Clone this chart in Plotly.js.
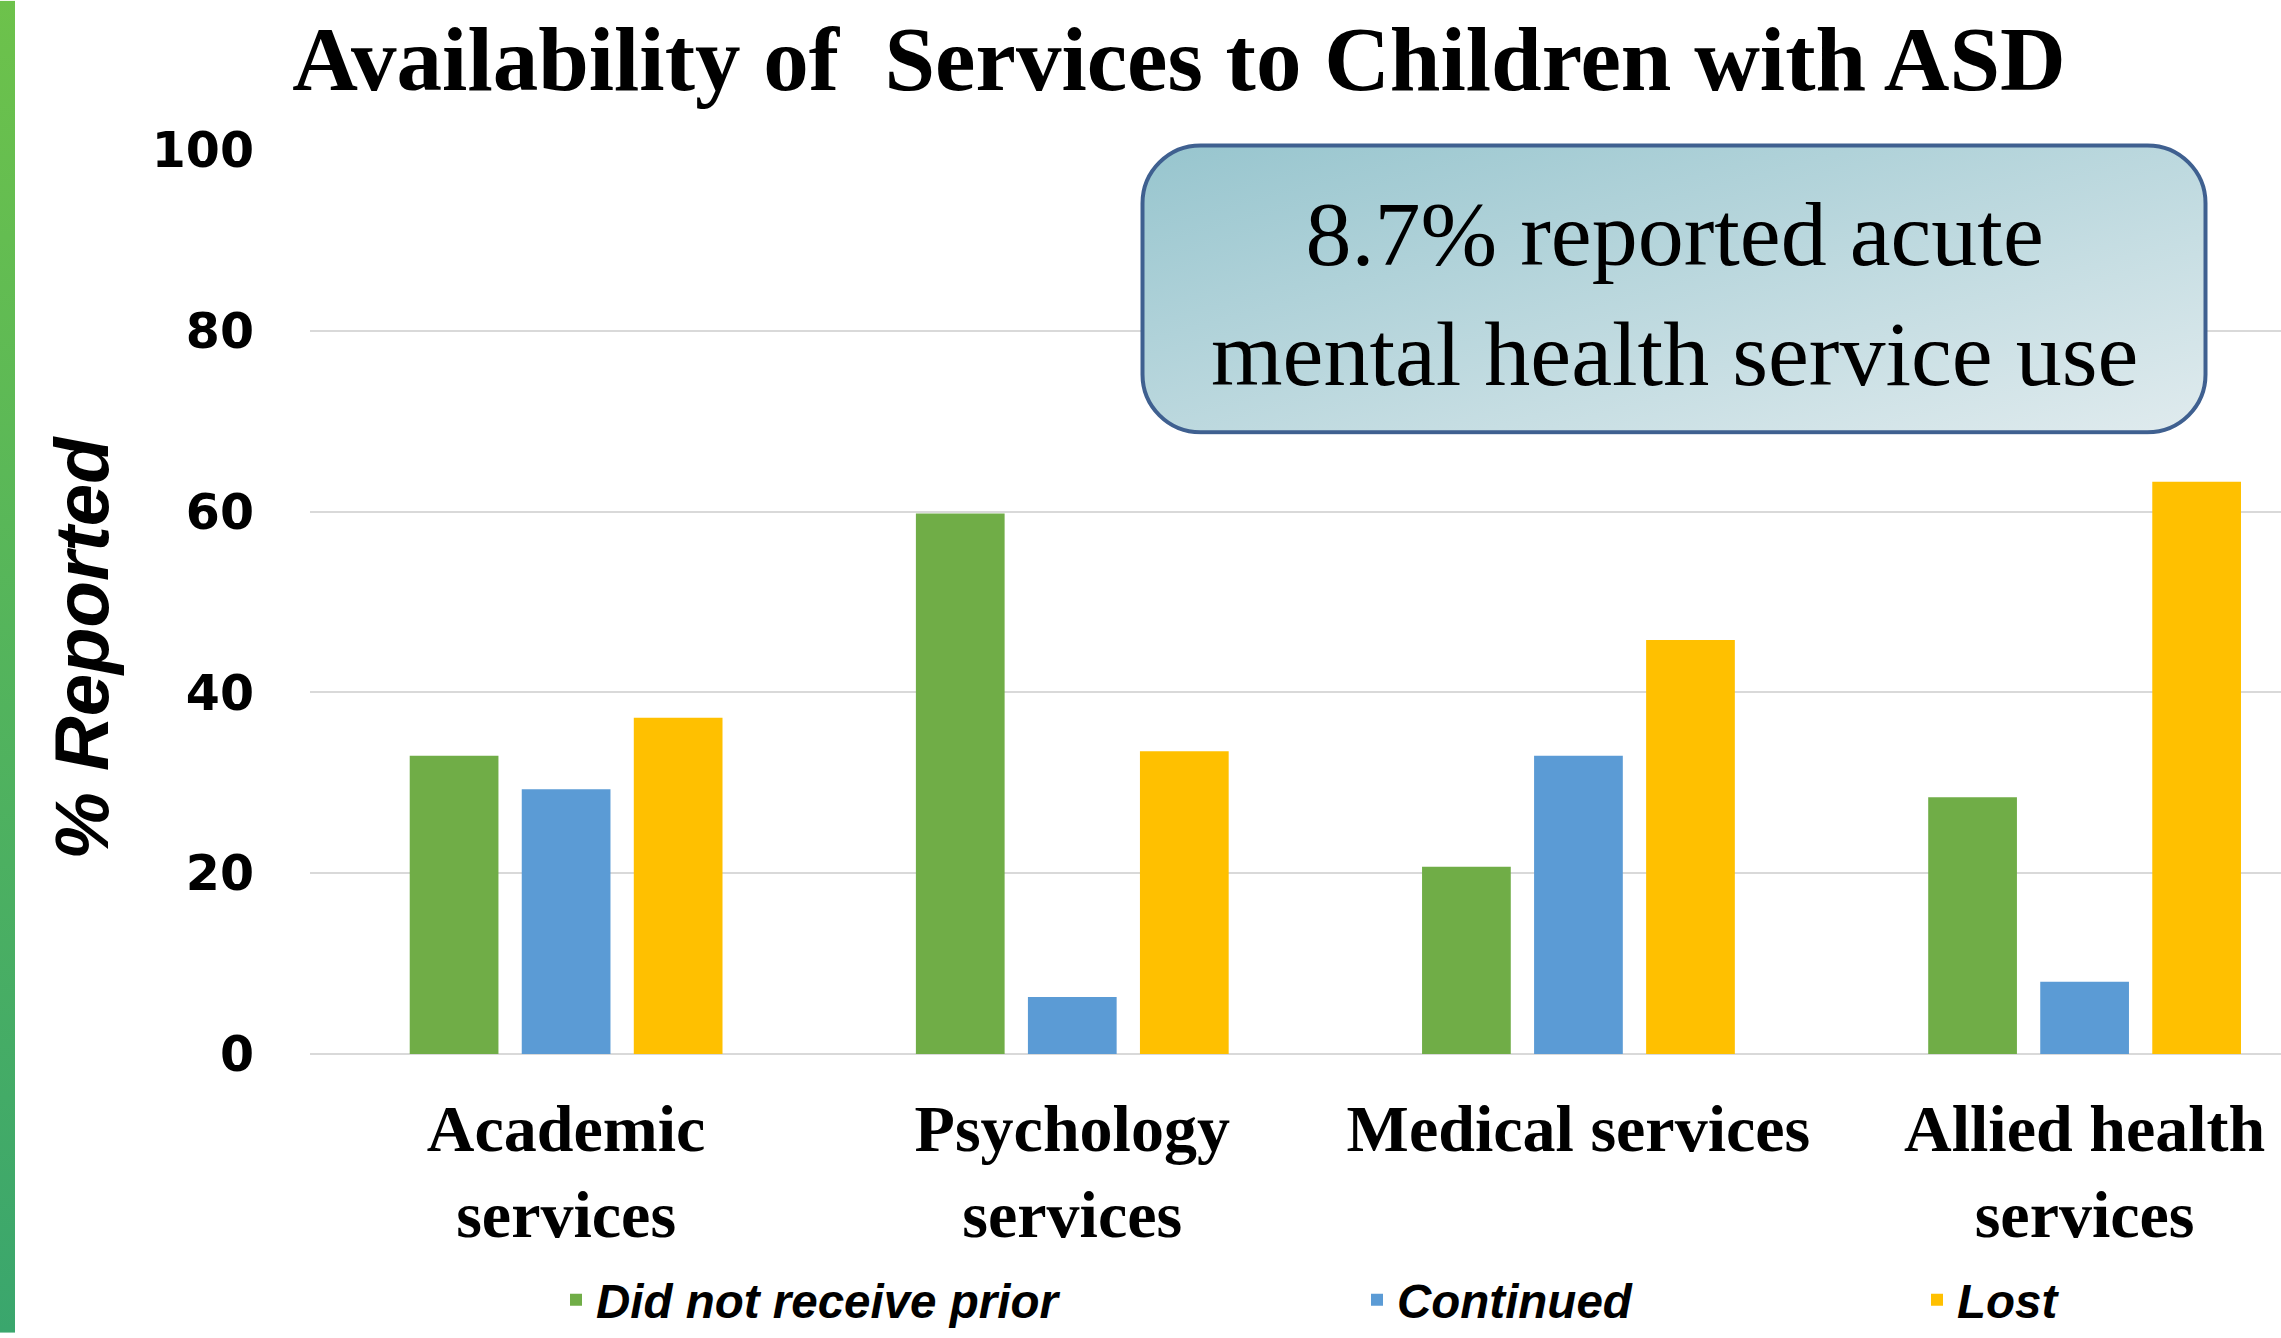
<!DOCTYPE html>
<html>
<head>
<meta charset="utf-8">
<script src="https://cdn.plot.ly/plotly-3.0.1.min.js"></script>
<style>html,body{margin:0;padding:0;background:#fff;}#chart{width:2281px;height:1338px;}</style>
</head>
<body>
<div id="chart"></div>
<script>
// ---- data ----
const categories = ["Academic<br>services", "Psychology<br>services", "Medical services", "Allied health<br>services"];
const seriesNames = ["Did not receive prior", "Continued", "Lost"];
const didNotReceivePrior = [33.0, 59.8, 20.7, 28.4];
const continued = [29.3, 6.3, 33.0, 8.0];
const lost = [37.2, 33.5, 45.8, 63.3];
const yTicks = [0, 20, 40, 60, 80, 100];
const titleText = "Availability of  Services to Children with ASD";
const yTitleText = "% Reported";
const calloutText = "8.7% reported acute<br>mental health service use";

// ---- styles ----
const colors = ["#70ad47", "#5b9bd5", "#ffc000"];
const W = 2281, H = 1338;
const M = {l: 310, r: 0, t: 150, b: 280};
const PW = W - M.l - M.r, PH = H - M.t - M.b;
const px2x = p => (p - M.l) / PW;
const py2y = p => (H - M.b - p) / PH;

const legendFont = {family: "Liberation Sans, Arial, sans-serif", size: 47.5, color: "#000", weight: "bold", style: "italic"};

const traces = [didNotReceivePrior, continued, lost].map((vals, i) => ({
  type: "bar",
  name: seriesNames[i],
  x: categories,
  y: vals,
  marker: {color: colors[i]},
  legend: i === 0 ? "legend" : "legend" + (i + 1),
  hoverinfo: "skip"
}));

// callout box (gradient, rounded) as svg image
const box = {x0: 1140, x1: 2208, y0: 143, y1: 436, r: 58};
const bw = box.x1 - box.x0, bh = box.y1 - box.y0;
const boxSvg = `<svg xmlns='http://www.w3.org/2000/svg' width='${bw}' height='${bh}' viewBox='0 0 ${bw} ${bh}'><defs><linearGradient id='g' x1='0' y1='0' x2='1' y2='1'><stop offset='0' stop-color='#97c5ce'/><stop offset='1' stop-color='#e0ebee'/></linearGradient></defs><rect x='2.5' y='2.5' width='${bw-5}' height='${bh-5}' rx='${box.r}' ry='${box.r}' fill='url(#g)' stroke='#3f6090' stroke-width='4'/></svg>`;
const stripSvg = `<svg xmlns='http://www.w3.org/2000/svg' width='15' height='${H}' viewBox='0 0 15 ${H}' preserveAspectRatio='none'><defs><linearGradient id='s' x1='0' y1='0' x2='0' y2='1'><stop offset='0' stop-color='#6dc24b'/><stop offset='1' stop-color='#3aa66d'/></linearGradient></defs><rect x='0' y='0' width='15' height='${H}' fill='url(#s)'/></svg>`;
const uri = s => "data:image/svg+xml;charset=utf-8," + encodeURIComponent(s);

const legendBase = {orientation: "h", yref: "paper", y: py2y(1305), yanchor: "middle", xanchor: "left", font: legendFont, bgcolor: "rgba(0,0,0,0)", borderwidth: 0};

const layout = {
  width: W, height: H,
  margin: M,
  paper_bgcolor: "#ffffff",
  plot_bgcolor: "#ffffff",
  barmode: "group",
  bargap: 0.336,
  bargroupgap: 0.208,
  title: {
    text: titleText,
    font: {family: "Liberation Serif, Times New Roman, serif", size: 91, color: "#000", weight: "bold"},
    xref: "container", x: 1179 / W, xanchor: "center",
    yref: "container", y: 1 - 58 / H, yanchor: "middle"
  },
  xaxis: {
    type: "category",
    range: [-0.506, 3.388],
    showgrid: false, zeroline: false, showline: false,
    ticks: "",
    ticklabelstandoff: 30,
    tickfont: {family: "Liberation Serif, Times New Roman, serif", size: 66, color: "#000", weight: "bold"},
    fixedrange: true
  },
  yaxis: {
    range: [0, 100],
    tickvals: yTicks,
    ticktext: yTicks.map(String),
    showgrid: true, gridcolor: "#d9d9d9", gridwidth: 2,
    zeroline: true, zerolinecolor: "#d9d9d9", zerolinewidth: 2,
    showline: false, ticks: "",
    ticklabelstandoff: 55,
    tickfont: {family: "DejaVu Sans, Verdana, sans-serif", size: 49, color: "#000", weight: "bold"},
    fixedrange: true
  },
  legend: Object.assign({}, legendBase, {x: px2x(556)}),
  legend2: Object.assign({}, legendBase, {x: px2x(1357)}),
  legend3: Object.assign({}, legendBase, {x: px2x(1917)}),
  images: [
    {source: uri(boxSvg), xref: "paper", yref: "paper", x: px2x(box.x0), y: py2y(box.y0), sizex: bw / PW, sizey: bh / PH, xanchor: "left", yanchor: "top", sizing: "stretch", layer: "above"},
    {source: uri(stripSvg), xref: "paper", yref: "paper", x: px2x(0), y: py2y(0), sizex: 15 / PW, sizey: H / PH, xanchor: "left", yanchor: "top", sizing: "stretch", layer: "above"}
  ],
  annotations: [
    {
      text: calloutText,
      xref: "paper", yref: "paper",
      x: px2x((box.x0 + box.x1) / 2), y: py2y(295),
      xanchor: "center", yanchor: "middle",
      showarrow: false,
      font: {family: "Liberation Serif, Times New Roman, serif", size: 92, color: "#000"}
    },
    {
      text: yTitleText,
      xref: "paper", yref: "paper",
      x: px2x(82), y: py2y(650),
      xanchor: "center", yanchor: "middle",
      textangle: -90,
      showarrow: false,
      font: {family: "Liberation Sans, Arial, sans-serif", size: 76, color: "#000", weight: "bold", style: "italic"}
    }
  ],
  showlegend: true
};

Plotly.newPlot("chart", traces, layout, {displayModeBar: false, staticPlot: true});
</script>
</body>
</html>
